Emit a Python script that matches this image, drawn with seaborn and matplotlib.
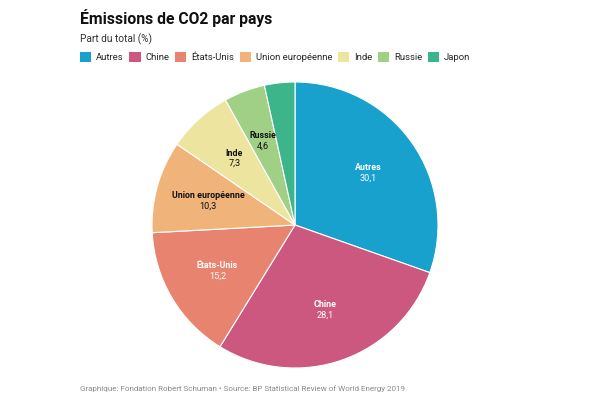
import numpy as np
import pandas as pd
import matplotlib
matplotlib.use("Agg")
import matplotlib.pyplot as plt
import matplotlib.patches as mpatches
import seaborn as sns

categories = ["Autres", "Chine", "États-Unis", "Union européenne", "Inde", "Russie", "Japon"]
values = [30.1, 28.1, 15.2, 10.3, 7.3, 4.6, 3.4]
value_labels = ["30,1", "28,1", "15,2", "10,3", "7,3", "4,6", ""]
colors = ["#18a1cd", "#cc587f", "#e8836f", "#f0b37a", "#ede4a0", "#a0cf86", "#3db58a"]
label_colors = ["white", "white", "white", "#111111", "#111111", "#111111", "white"]

df = pd.DataFrame({"cat": categories, "val": values})

sns.set_theme(style="white")
plt.rcParams["font.family"] = ["Roboto", "DejaVu Sans"]

fig = plt.figure(figsize=(5.9, 4.0), dpi=100)
R = 143
cx, cy = 295, 225
ax = fig.add_axes([(cx - R) / 590, (400 - cy - R) / 400, 2 * R / 590, 2 * R / 400])
wedges, _ = ax.pie(df["val"], colors=colors, startangle=90, counterclock=False,
                   wedgeprops=dict(edgecolor="white", linewidth=0.8))
ax.set_xlim(-1, 1)
ax.set_ylim(-1, 1)
ax.set_aspect("auto")
ax.axis("off")

for w, name, vl, lc in zip(wedges, categories, value_labels, label_colors):
    if not vl:
        continue
    ang = np.deg2rad((w.theta1 + w.theta2) / 2)
    r = 0.63
    x, y = r * np.cos(ang), r * np.sin(ang)
    ax.text(x, y + 0.005, name, ha="center", va="bottom", fontsize=6.4, fontweight="bold", color=lc)
    ax.text(x, y - 0.005, vl, ha="center", va="top", fontsize=6.6, color=lc)

fig.text(80 / 590, 1 - 24 / 400, "Émissions de CO2 par pays", fontsize=11.3, fontweight="bold",
         color="#111111", ha="left", va="baseline")
fig.text(80 / 590, 1 - 42 / 400, "Part du total (%)", fontsize=7.3, color="#333333",
         ha="left", va="baseline")

handles = [mpatches.Patch(facecolor=c, edgecolor="none", label=n) for c, n in zip(colors, categories)]
fig.legend(handles=handles, loc="center left", bbox_to_anchor=(80 / 590, 1 - 57 / 400), ncol=7,
           frameon=False, fontsize=6.8, handlelength=1.2, handleheight=1.2, handletextpad=0.5,
           columnspacing=0.6, borderaxespad=0, borderpad=0)

fig.text(80 / 590, 1 - 391 / 400,
         "Graphique: Fondation Robert Schuman • Source: BP Statistical Review of World Energy 2019",
         fontsize=5.8, color="#8a8a8a", ha="left", va="baseline")

fig.savefig("out.png", dpi=100, facecolor="white")
